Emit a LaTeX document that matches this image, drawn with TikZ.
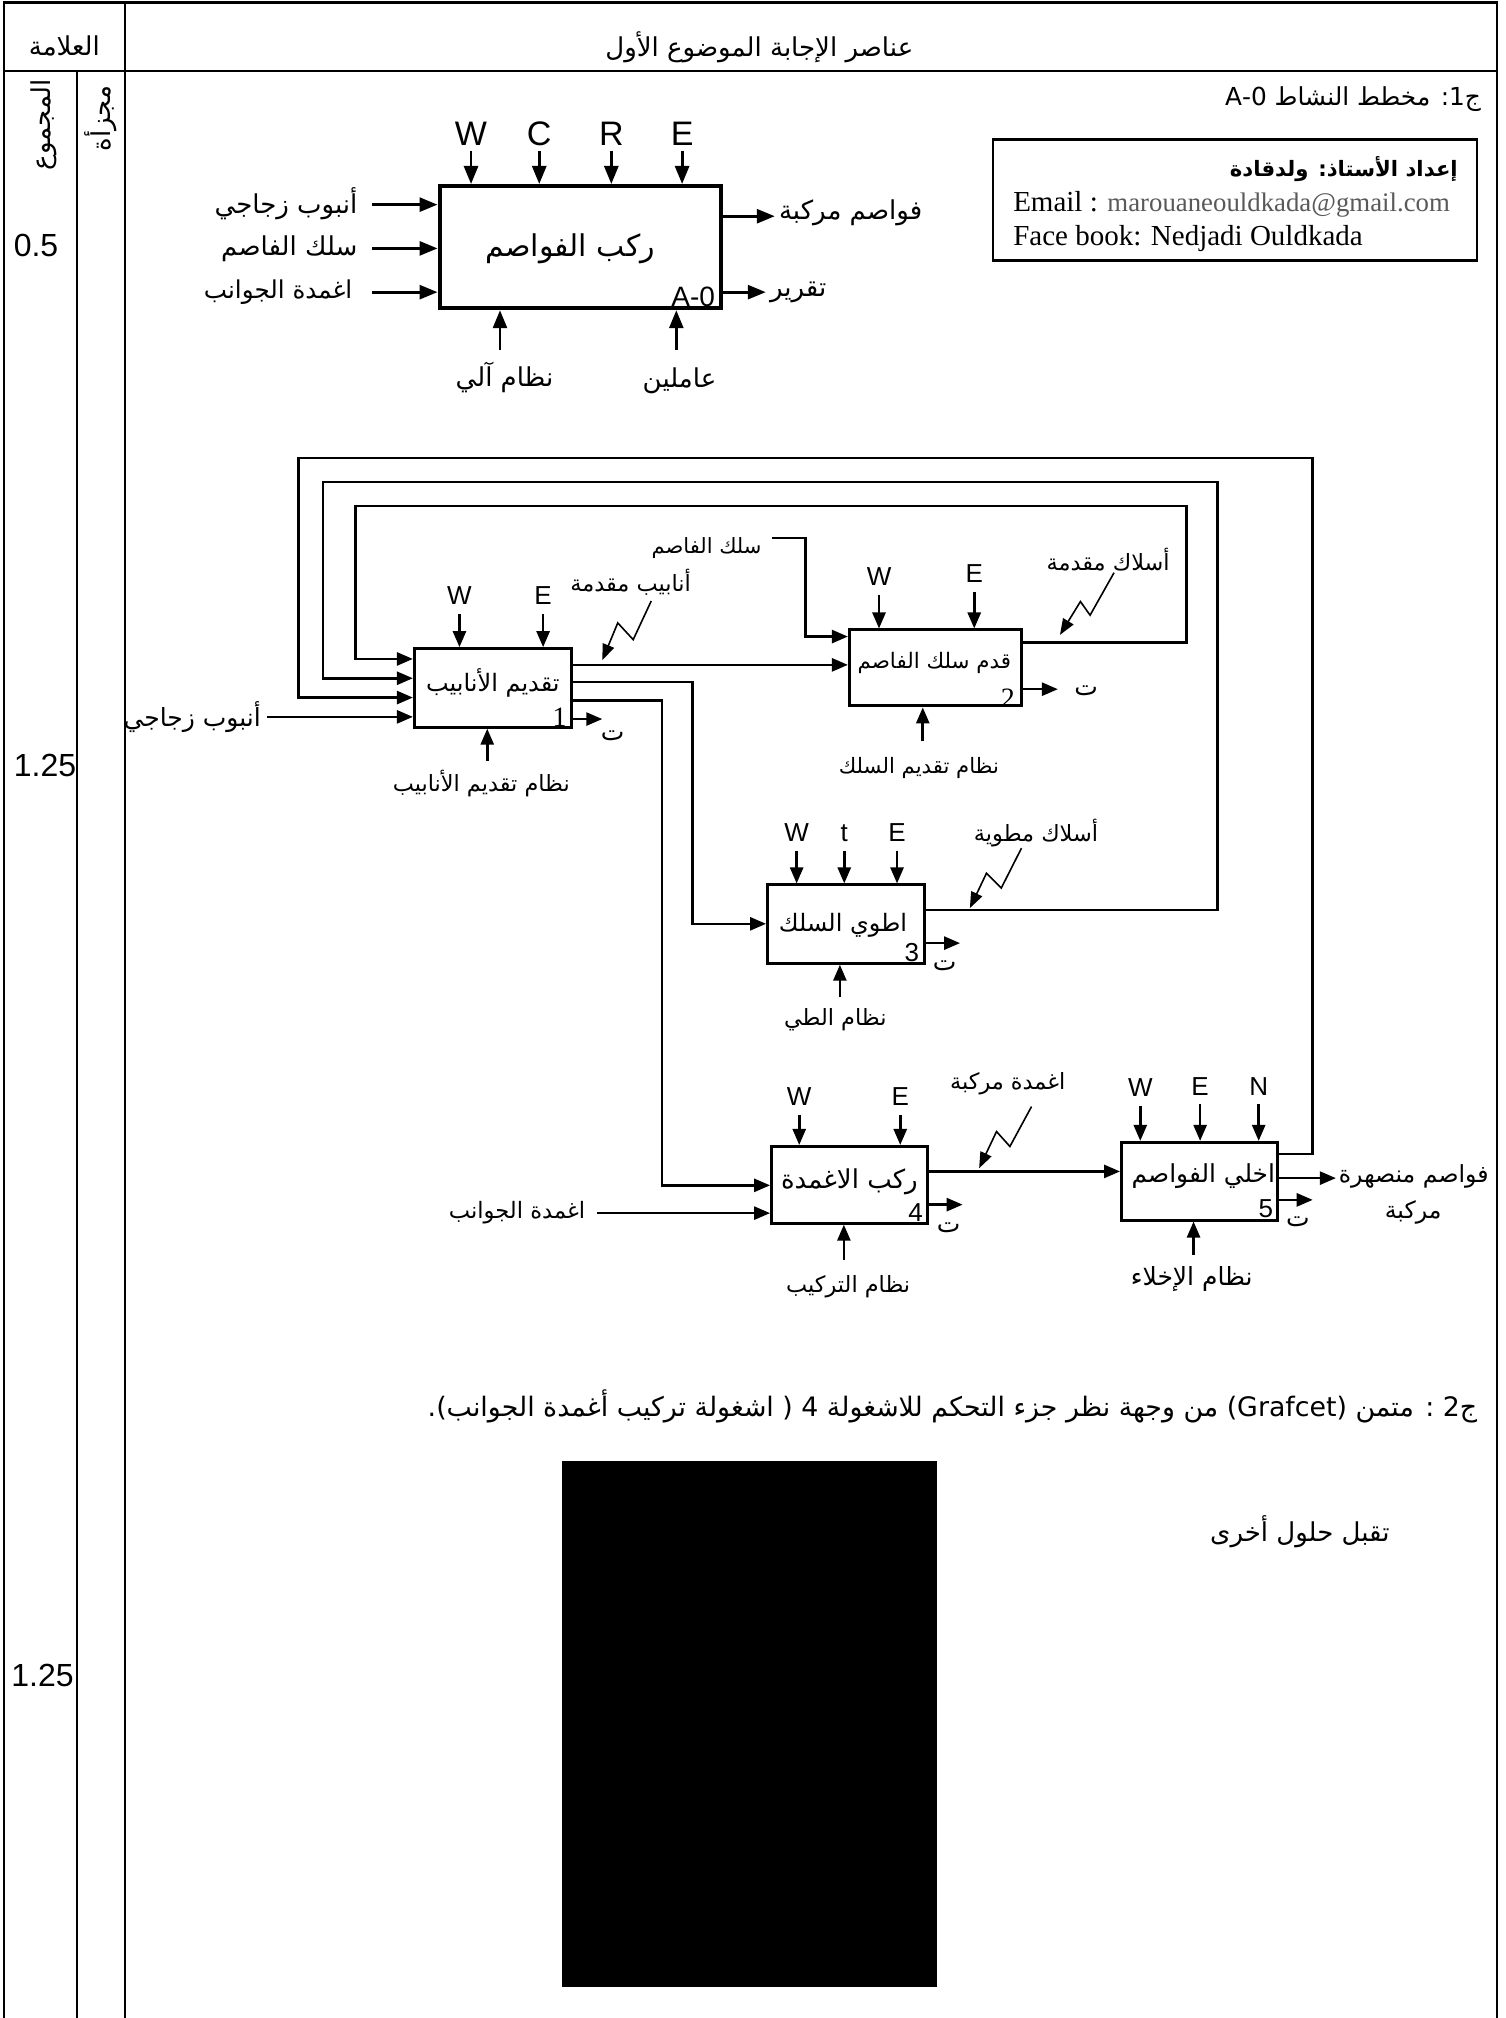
\documentclass[tikz,border=0pt]{standalone}
\usepackage{fontspec}
\setmainfont{Liberation Sans}
\newfontfamily\arf[Script=Arabic]{DejaVu Sans}
\newfontfamily\tmsf{Liberation Serif}
\TeXXeTstate=1
\usetikzlibrary{arrows.meta}
\newcommand\AR[1]{{\arf\beginR #1\endR}}
\def\U{0.6436pt}
\newcommand\fT{\fontsize{13}{15}\selectfont}
\newcommand\fA{\fontsize{13}{15}\selectfont}
\newcommand\fB{\fontsize{12}{14}\selectfont}
\newcommand\fC{\fontsize{11.2}{13}\selectfont}
\newcommand\fLA{\fontsize{17}{20}\selectfont}
\newcommand\fLB{\fontsize{13}{15}\selectfont}
\tikzset{
  frameline/.style={line width=1.2pt},
  conn/.style={line width=1.3pt},
  arr/.style={conn,-{Triangle[length=8pt,width=6.5pt]}},
  bigarr/.style={line width=1.4pt,-{Triangle[length=9pt,width=7pt]}},
  zz/.style={line width=0.8pt,-{Triangle[length=8pt,width=6pt]}},
  boxA/.style={draw,line width=2pt,inner sep=0pt},
  boxB/.style={draw,line width=1.5pt,inner sep=0pt},
  txt/.style={inner sep=0pt},
}
\begin{document}
\begin{tikzpicture}[x=0.6436pt,y=-0.6436pt]
\useasboundingbox (0,0) rectangle (1170,1568);
% ---------- frame ----------
\draw[frameline] (3,1568) -- (3,2) -- (1163,2) -- (1163,1568);
\draw[frameline] (3,55) -- (1163,55);
\draw[frameline] (97,2) -- (97,1568);
\draw[frameline] (60,55) -- (60,1568);
\node[txt] (hd1) at (50,36) {\fA\AR{العلامة}};
\node[txt] (hd2) at (590,37) {\fT\AR{عناصر  الإجابة الموضوع الأول}};
\node[txt,rotate=90] (r1) at (34,97) {\fA\AR{المجموع}};
\node[txt,rotate=90] (r2) at (78,92) {\fA\AR{مجزأة}};
\node[txt] (s1) at (28,191) {\fontsize{16}{18}\selectfont 0.5};
\node[txt] (s2) at (35,595) {\fontsize{16}{18}\selectfont 1.25};
\node[txt] (s3) at (33,1302) {\fontsize{16}{18}\selectfont 1.25};
% ---------- Q1 title and author box ----------
\node[txt,anchor=east] (q1) at (1151,77) {\fontsize{12.4}{15}\selectfont\AR{ج1: مخطط النشاط \beginL A-0\endL}};
\node[draw,line width=1.2pt,minimum width=376*\U,minimum height=94*\U] (auth) at (959.5,155.5) {};
\node[txt,anchor=east] (au1) at (1133,131) {\fontsize{10.6}{12}\selectfont\bfseries\AR{إعداد الأستاذ: ولدقادة}};
\node[txt,anchor=west] (au2) at (787,159) {\tmsf\fontsize{14.5}{16}\selectfont Email : {\color{black!65}\fontsize{13.4}{14}\selectfont marouaneouldkada@gmail.com}};
\node[txt,anchor=west] (au3) at (787,185) {\tmsf\fontsize{14.5}{16}\selectfont Face book: Nedjadi Ouldkada};
% ---------- A-0 ----------
\node[boxA,minimum width=219*\U,minimum height=95*\U] (a0) at (451,192) {};
\node[txt] (a0t) at (443,193) {\fontsize{15}{17}\selectfont\AR{ركب الفواصم}};
\node[txt,anchor=south east,inner xsep=4pt,inner ysep=1.5pt] (a0n) at (a0.south east) {\fontsize{14}{16}\selectfont A-0};
\foreach \nm/\xx/\lt in {aW/366/W,aC/419/C,aR/475/R,aE/530/E}{
  \node[txt] (\nm) at (\xx,104) {\fLA \lt};
  \coordinate (\nm s) at (\xx,117);
  \draw[bigarr] (\nm s) -- (\nm s |- a0.north);
}
\node[txt,anchor=east] (ai1) at (278,158) {\fA\AR{أنبوب زجاجي}};
\node[txt,anchor=east] (ai2) at (278,193) {\fA\AR{سلك الفاصم}};
\node[txt,anchor=east] (ai3) at (274,227) {\fontsize{12.3}{15}\selectfont\AR{اغمدة الجوانب}};
\coordinate (ai1s) at (289,159);
\coordinate (ai2s) at (289,193);
\coordinate (ai3s) at (289,227);
\draw[bigarr] (ai1s) -- (a0.west |- ai1s);
\draw[bigarr] (ai2s) -- (a0.west |- ai2s);
\draw[bigarr] (ai3s) -- (a0.west |- ai3s);
\coordinate (ao1e) at (602,168);
\coordinate (ao2e) at (595,227);
\draw[bigarr] (a0.east |- ao1e) -- (ao1e);
\draw[bigarr] (a0.east |- ao2e) -- (ao2e);
\node[txt,anchor=west] (ao1) at (605,165) {\fA\AR{فواصم مركبة}};
\node[txt,anchor=west] (ao2) at (598,227) {\fA\AR{تقرير}};
\coordinate (ab1s) at (388.5,272);
\coordinate (ab2s) at (525.5,272);
\draw[bigarr] (ab1s) -- (a0.south -| ab1s);
\draw[bigarr] (ab2s) -- (a0.south -| ab2s);
\node[txt] (ab1) at (392,293) {\fA\AR{نظام آلي}};
\node[txt] (ab2) at (528,296) {\fA\AR{عاملين}};
% ---------- boxes ----------
\node[boxB,minimum width=122*\U,minimum height=61*\U] (b1) at (383,534.5) {};
\node[boxB,minimum width=134*\U,minimum height=59*\U] (b2) at (727,519) {};
\node[boxB,minimum width=121.6*\U,minimum height=60.8*\U] (b3) at (657.2,718) {};
\node[boxB,minimum width=121.3*\U,minimum height=59.6*\U] (b4) at (660.2,920.6) {};
\node[boxB,minimum width=121.5*\U,minimum height=60.3*\U] (b5) at (932.2,917.8) {};
\node[txt] (b1t) at (383,531) {\fB\AR{تقديم الأنابيب}};
\node[txt] (b2t) at (726,515) {\fontsize{10.7}{13}\selectfont\AR{قدم سلك الفاصم}};
\node[txt] (b3t) at (655,719) {\fB\AR{اطوي السلك}};
\node[txt] (b4t) at (660,918) {\fontsize{13}{15}\selectfont\AR{ركب الاغمدة}};
\node[txt] (b5t) at (935,914) {\fontsize{12.4}{15}\selectfont\AR{اخلي الفواصم}};
\node[txt,anchor=south east,inner xsep=3pt,inner ysep=1pt] (b1n) at (b1.south east) {\tmsf\fontsize{14}{16}\selectfont 1};
\node[txt,anchor=south east,inner xsep=4pt,inner ysep=0pt] (b2n) at (b2.south east) {\tmsf\fontsize{14}{16}\selectfont 2};
\node[txt,anchor=south east,inner xsep=3pt,inner ysep=1.5pt] (b3n) at (b3.south east) {\fontsize{13}{15}\selectfont 3};
\node[txt,anchor=south east,inner xsep=3pt,inner ysep=1.5pt] (b4n) at (b4.south east) {\fontsize{13}{15}\selectfont 4};
\node[txt,anchor=south east,inner xsep=3pt,inner ysep=1.5pt] (b5n) at (b5.south east) {\fontsize{13}{15}\selectfont 5};
% ---------- controls (top) ----------
\foreach \bx/\nm/\xx/\ly/\lt in {b1/c1W/357/463/W,b1/c1E/422/463/E,b2/c2W/683/448/W,b2/c2E/757/446/E,
  b3/c3W/619/647/W,b3/c3t/656/647/t,b3/c3E/697/647/E,b4/c4W/621/852/W,b4/c4E/699.5/852/E,
  b5/c5W/886/845/W,b5/c5E/932.5/844/E,b5/c5N/978/844/N}{
  \node[txt] (\nm) at (\xx,\ly) {\fLB \lt};
  \coordinate (\nm s) at (\xx,\ly+14);
  \draw[arr] (\nm s) -- (\nm s |- \bx.north);
}
% ---------- mechanisms (bottom) ----------
\coordinate (m1s) at (378.6,591);
\coordinate (m2s) at (717,576);
\coordinate (m3s) at (652.6,775);
\coordinate (m4s) at (655.7,979);
\coordinate (m5s) at (927.4,975);
\draw[arr] (m1s) -- (b1.south -| m1s);
\draw[arr] (m2s) -- (b2.south -| m2s);
\draw[arr] (m3s) -- (b3.south -| m3s);
\draw[arr] (m4s) -- (b4.south -| m4s);
\draw[arr] (m5s) -- (b5.south -| m5s);
\node[txt] (m1) at (374,609) {\fC\AR{نظام تقديم الأنابيب}};
\node[txt] (m2) at (714,597) {\fontsize{10.6}{13}\selectfont\AR{نظام تقديم السلك}};
\node[txt] (m3) at (649,792) {\fC\AR{نظام الطي}};
\node[txt] (m4) at (659,1000) {\fC\AR{نظام التركيب}};
\node[txt] (m5) at (926,994) {\fontsize{12.5}{14}\selectfont\AR{نظام الإخلاء}};
% ---------- report outputs (ت) ----------
\coordinate (t1e) at (468,558.7);
\coordinate (t2e) at (822,535.5);
\coordinate (t3e) at (746,732.8);
\coordinate (t4e) at (748,936);
\coordinate (t5e) at (1020,932.3);
\draw[arr] (b1.east |- t1e) -- (t1e);
\draw[arr] (b2.east |- t2e) -- (t2e);
\draw[arr] (b3.east |- t3e) -- (t3e);
\draw[arr] (b4.east |- t4e) -- (t4e);
\draw[arr] (b5.east |- t5e) -- (t5e);
\node[txt] (t1) at (476,572) {\fontsize{12.5}{14}\selectfont\AR{ت}};
\node[txt] (t2) at (844,537) {\fontsize{12.5}{14}\selectfont\AR{ت}};
\node[txt] (t3) at (734,750) {\fontsize{12.5}{14}\selectfont\AR{ت}};
\node[txt] (t4) at (737,954) {\fontsize{12.5}{14}\selectfont\AR{ت}};
\node[txt] (t5) at (1008.5,949) {\fontsize{12.5}{14}\selectfont\AR{ت}};
% ---------- inputs ----------
\node[txt,anchor=east] (in1) at (203,557) {\fontsize{12.5}{14}\selectfont\AR{أنبوب زجاجي}};
\coordinate (in1s) at (207.6,557);
\draw[arr] (in1s) -- (b1.west |- in1s);
\node[txt,anchor=east] (in2) at (592,426) {\fontsize{10.5}{13}\selectfont\AR{سلك الفاصم}};
\coordinate (in2s) at (600,418);
\draw[arr] (in2s) -| (626,494.6) -- (b2.west |- 0,494.6);
\node[txt,anchor=east] (in3) at (455,942) {\fontsize{11.3}{14}\selectfont\AR{اغمدة الجوانب}};
\coordinate (in3s) at (464.2,942.6);
\draw[arr] (in3s) -- (b4.west |- in3s);
% ---------- flows from box 1 ----------
\draw[arr] (b1.east |- 0,516.6) -- (b2.west |- 0,516.6);
\draw[arr] (b1.east |- 0,530) -| (538,717.8) -- (b3.west |- 0,717.8);
\draw[arr] (b1.east |- 0,544.3) -| (514.5,921) -- (b4.west |- 0,921);
\draw[arr] (b4.east |- 0,910.2) -- (b5.west |- 0,910.2);
% ---------- feedback loops ----------
\draw[arr] (b2.east |- 0,499.3) -| (922,393) -| (276,512) -- (b1.west |- 0,512);
\draw[arr] (b3.east |- 0,707) -| (946,374.5) -| (251,527) -- (b1.west |- 0,527);
\draw[arr] (b5.east |- 0,896.8) -| (1020,356) -| (232,542) -- (b1.west |- 0,542);
% ---------- final output ----------
\coordinate (foe) at (1038,915.4);
\draw[arr] (b5.east |- foe) -- (foe);
\node[txt,anchor=west] (fo1) at (1040,914) {\fontsize{11.8}{14}\selectfont\AR{فواصم منصهرة}};
\node[txt] (fo2) at (1098,942) {\fontsize{11.8}{14}\selectfont\AR{مركبة}};
% ---------- zigzag annotations ----------
\node[txt] (z1) at (490,452) {\fC\AR{أنابيب مقدمة}};
\draw[zz] (506,467) -- (492,497) -- (480,484) -- (468,513);
\node[txt] (z2) at (861,435) {\fC\AR{أسلاك مقدمة}};
\draw[zz] (865.6,445) -- (847,478) -- (839.5,467.4) -- (823.6,493.3);
\node[txt] (z3) at (805,647) {\fC\AR{أسلاك مطوية}};
\draw[zz] (793.7,659) -- (778,690) -- (766.5,678.5) -- (753.6,705.6);
\node[txt] (z4) at (783,842) {\fC\AR{اغمدة مركبة}};
\draw[zz] (801.5,859.8) -- (784.7,890.8) -- (774.3,879.2) -- (760.8,907.7);
% ---------- Q2 ----------
\node[txt,anchor=east] (q2) at (1148,1093) {\fontsize{13.4}{15}\selectfont\AR{ج2 : متمن \beginL(Grafcet)\endL{} من وجهة نظر جزء التحكم  للاشغولة 4 ( اشغولة تركيب أغمدة الجوانب).}};
\node[fill=black,minimum width=291.7*\U,minimum height=409*\U,inner sep=0pt] (blk) at (582.4,1339.5) {};
\node[txt] (alt) at (1010,1190) {\fA\AR{تقبل حلول أخرى}};
\end{tikzpicture}
\end{document}
